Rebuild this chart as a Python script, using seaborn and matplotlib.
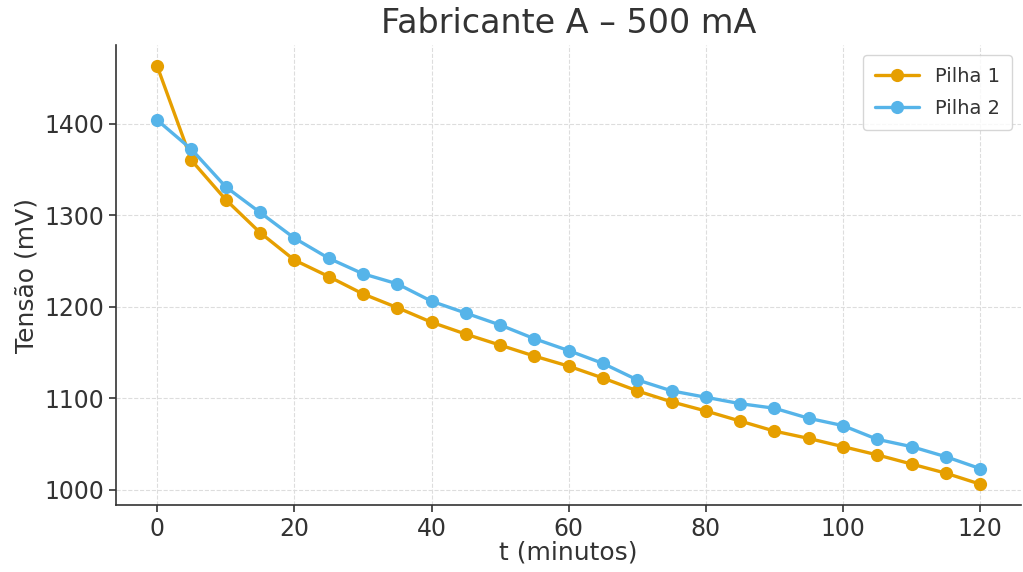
import pandas as pd
import seaborn as sns
import matplotlib.pyplot as plt

t_min = [0, 5, 10, 15, 20, 25, 30, 35, 40, 45, 50, 55, 60,
         65, 70, 75, 80, 85, 90, 95, 100, 105, 110, 115, 120]
pilha1 = [1463, 1360, 1317, 1281, 1251, 1233, 1214, 1199, 1183, 1170, 1158, 1146, 1135,
          1122, 1108, 1096, 1086, 1075, 1064, 1056, 1047, 1038, 1028, 1018, 1006]
pilha2 = [1404, 1372, 1331, 1303, 1275, 1253, 1236, 1225, 1206, 1193, 1180, 1165, 1152,
          1138, 1120, 1108, 1101, 1094, 1089, 1078, 1070, 1055, 1047, 1036, 1023]
series_names = ["Pilha 1", "Pilha 2"]
colors = ["#E69F00", "#56B4E9"]

df = pd.DataFrame({
    "t": t_min * 2,
    "v": pilha1 + pilha2,
    "serie": [series_names[0]] * len(t_min) + [series_names[1]] * len(t_min),
})

sns.set_style("ticks")
plt.rcParams["font.family"] = ["DejaVu Sans"]
text_color = "#333333"

fig = plt.figure(figsize=(10.23, 5.72), dpi=100)
ax = fig.add_axes([0.1134, 0.117, 0.885, 0.804])

sns.lineplot(data=df, x="t", y="v", hue="serie", palette=colors,
             marker="o", markersize=9.5, markeredgewidth=0, linewidth=2.4, ax=ax)

ax.set_title("Fabricante A – 500 mA", fontsize=24, color=text_color, pad=9)
ax.set_xlabel("t (minutos)", fontsize=18, color=text_color, labelpad=0)
ax.set_ylabel("Tensão (mV)", fontsize=18, color=text_color)
ax.set_xticks([0, 20, 40, 60, 80, 100, 120])
ax.set_yticks([1000, 1100, 1200, 1300, 1400])
ax.tick_params(labelsize=17, colors=text_color, length=5, width=1.2)
ax.grid(True, linestyle="--", color="#dddddd", linewidth=0.8)
sns.despine(ax=ax)
for s in ["left", "bottom"]:
    ax.spines[s].set_color(text_color)
    ax.spines[s].set_linewidth(1.2)

leg = ax.legend(loc="upper right", fontsize=14, frameon=True, handlelength=2.3,
                labelspacing=0.7, borderpad=0.6)
leg.get_frame().set_edgecolor("#cccccc")
for txt in leg.get_texts():
    txt.set_color(text_color)

fig.savefig("out.png", dpi=100)
